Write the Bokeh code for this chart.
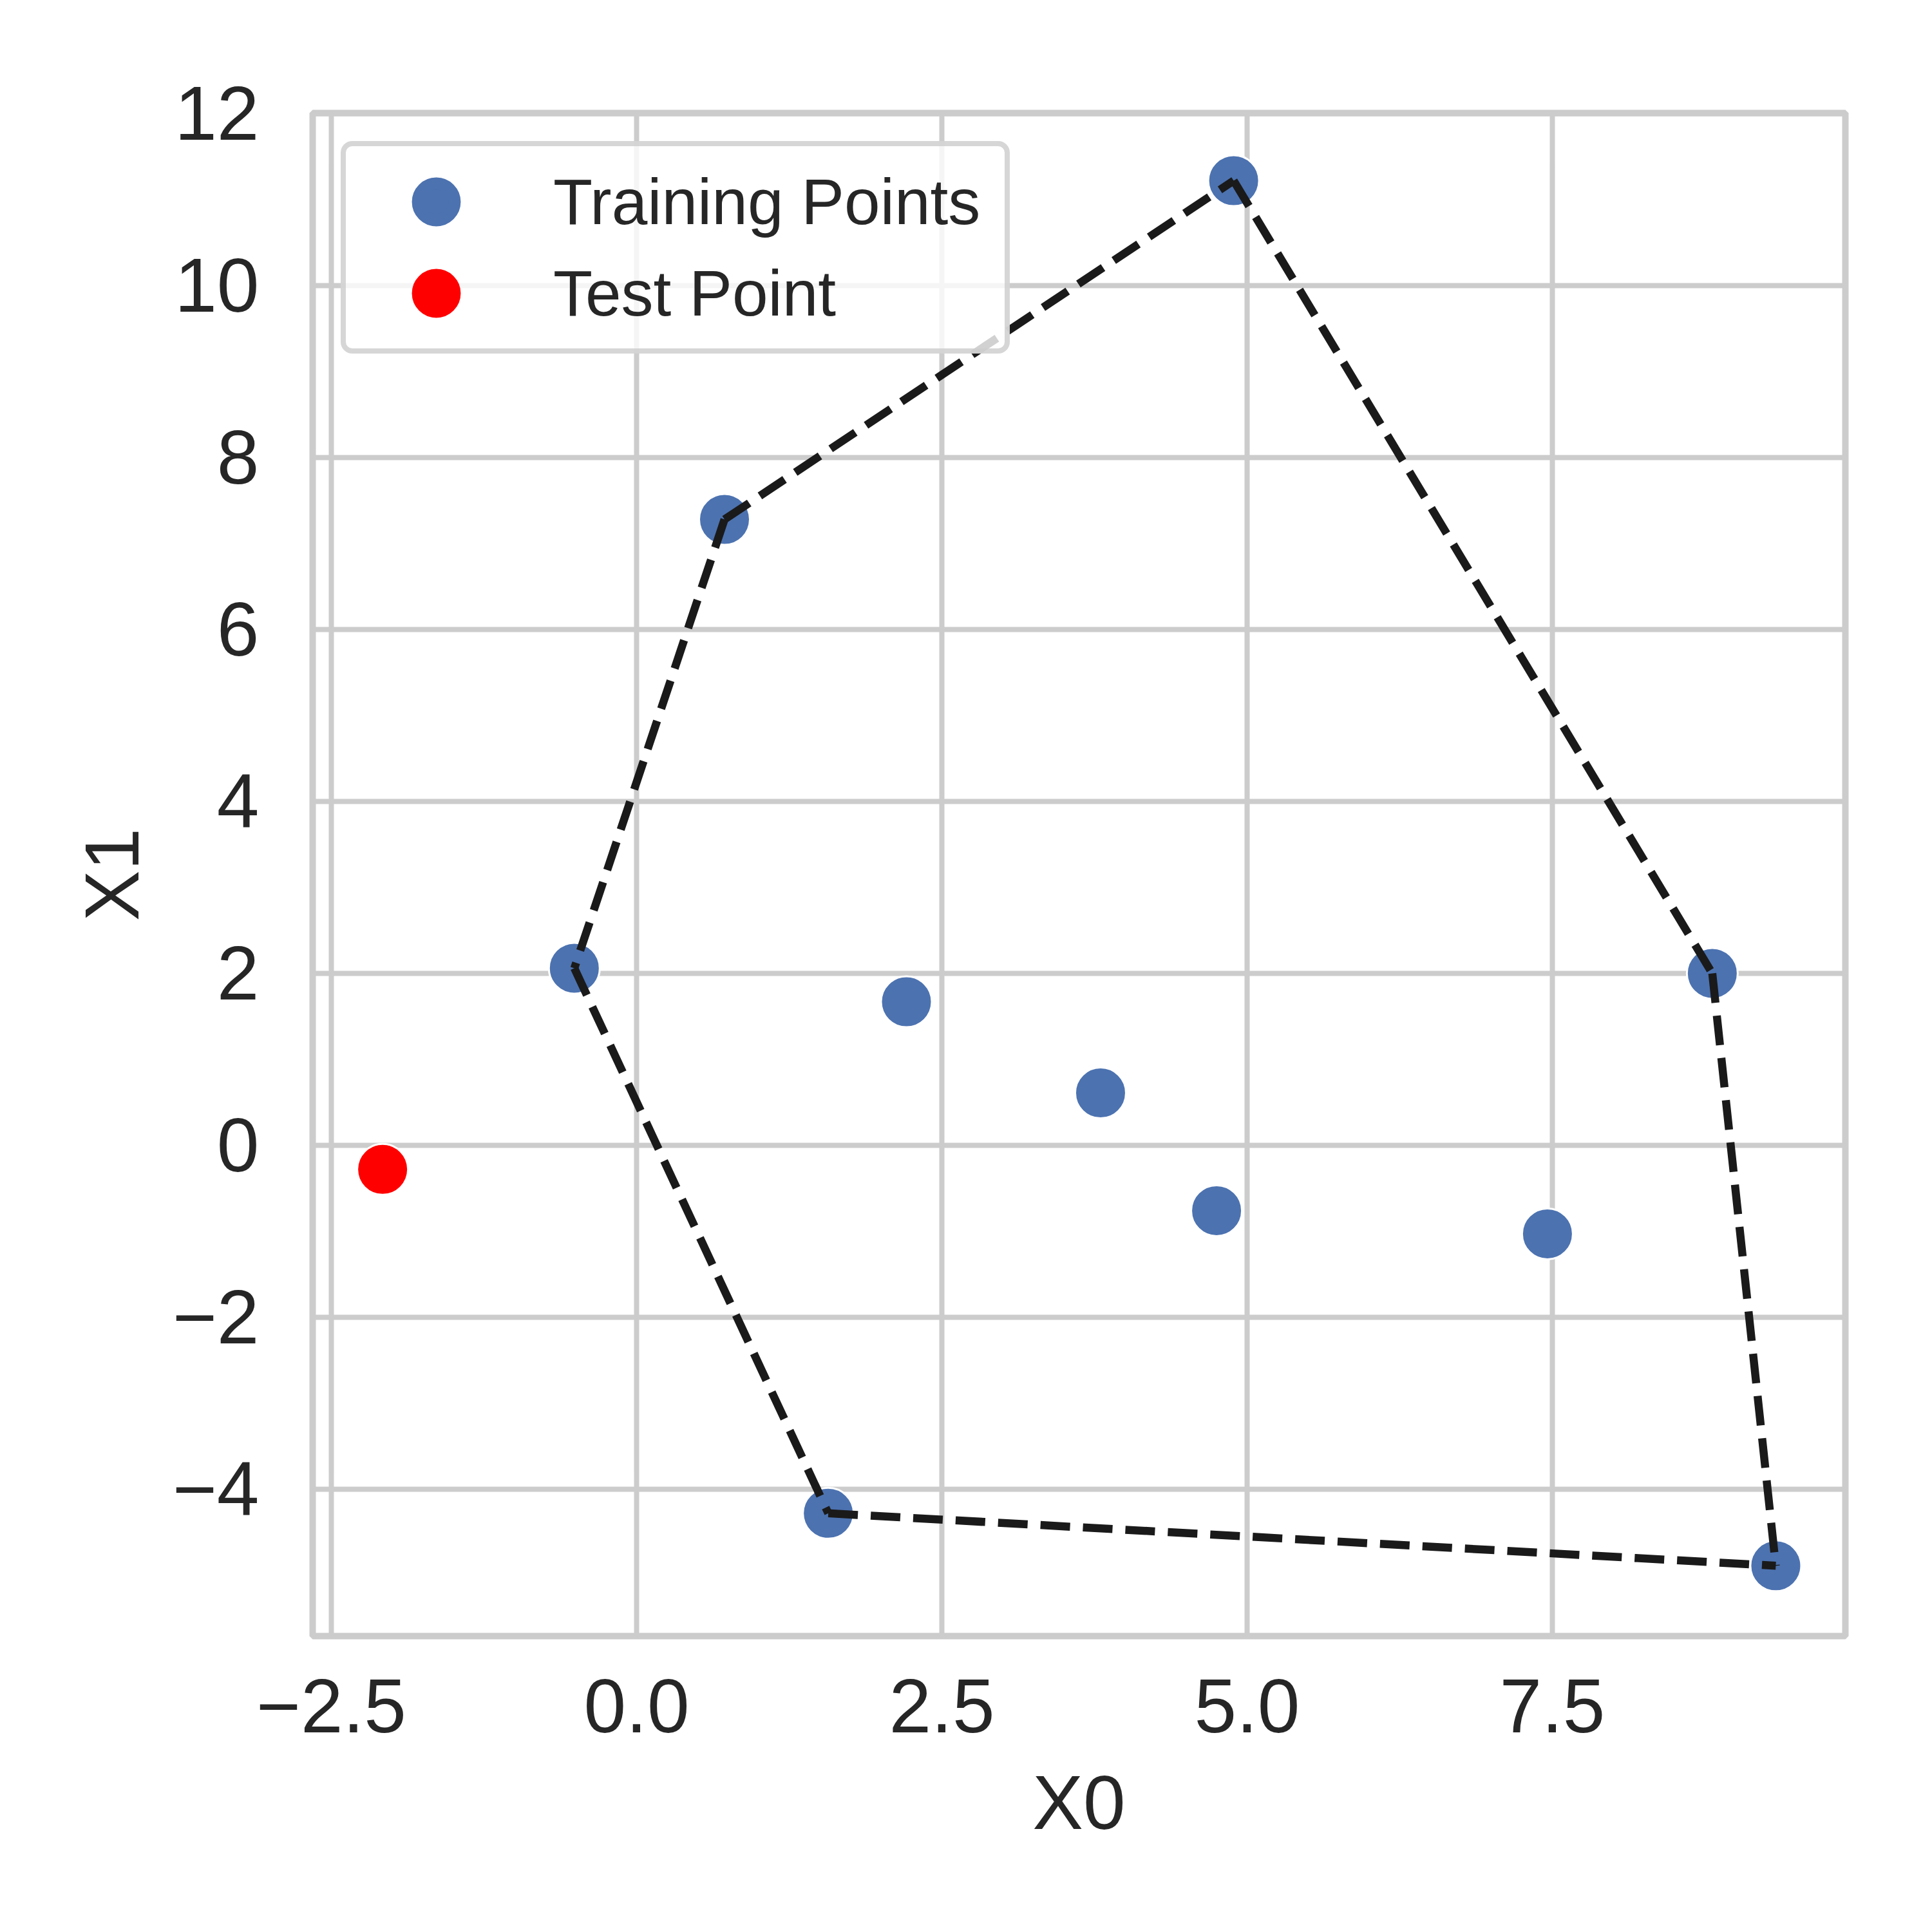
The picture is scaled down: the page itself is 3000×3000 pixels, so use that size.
from bokeh.plotting import figure
from bokeh.models import FixedTicker, Legend, LegendItem
from bokeh.embed import file_html
from bokeh.resources import INLINE

# ---- data ----
train_x = [-0.51, 0.72, 4.89, 8.81, 9.33, 1.57, 2.21, 3.80, 4.75, 7.46]
train_y = [2.06, 7.28, 11.22, 2.00, -4.89, -4.28, 1.67, 0.61, -0.76, -1.03]
test_x = [-2.08]
test_y = [-0.28]
# convex hull edges as index pairs into the training points
hull_edges = [(5, 4), (3, 4), (2, 3), (1, 2), (1, 0), (0, 5)]

x_ticks = [-2.5, 0.0, 2.5, 5.0, 7.5]
x_tick_labels = ["\u22122.5", "0.0", "2.5", "5.0", "7.5"]
y_ticks = [-4, -2, 0, 2, 4, 6, 8, 10, 12]
y_tick_labels = ["\u22124", "\u22122", "0", "2", "4", "6", "8", "10", "12"]
x_label = "X0"
y_label = "X1"
series_labels = ["Training Points", "Test Point"]
series_colors = ["#4C72B0", "#FF0000"]

FONT = "Liberation Sans"
TEXT = "#262626"
GRID = "#cccccc"

p = figure(
    width=2984, height=2984,
    x_range=(-2.653, 9.90), y_range=(-5.708, 12.007),
    output_backend="svg", toolbar_location=None,
    min_border_left=485, min_border_right=119,
    min_border_top=175, min_border_bottom=444,
)
p.background_fill_color = "white"
p.border_fill_color = "white"
p.outline_line_color = GRID
p.outline_line_width = 10

for g in (p.xgrid, p.ygrid):
    g.grid_line_color = GRID
    g.grid_line_width = 8

p.xaxis.ticker = FixedTicker(ticks=x_ticks)
p.yaxis.ticker = FixedTicker(ticks=y_ticks)
p.xaxis.major_label_overrides = {float(t): l for t, l in zip(x_ticks, x_tick_labels)}
p.yaxis.major_label_overrides = {float(t): l for t, l in zip(y_ticks, y_tick_labels)}
p.xaxis.axis_label = x_label
p.yaxis.axis_label = y_label

for ax in (p.xaxis[0], p.yaxis[0]):
    ax.axis_line_color = None
    ax.major_tick_line_color = None
    ax.minor_tick_line_color = None
    ax.major_tick_out = 0
    ax.major_tick_in = 0
    ax.major_label_text_font = FONT
    ax.major_label_text_font_size = "118px"
    ax.major_label_text_color = TEXT
    ax.axis_label_text_font = FONT
    ax.axis_label_text_font_size = "118px"
    ax.axis_label_text_color = TEXT
    ax.axis_label_text_font_style = "normal"

p.xaxis.major_label_standoff = 67
p.xaxis.axis_label_standoff = 40
p.yaxis.major_label_standoff = 83
p.yaxis.axis_label_standoff = 25

# legend swatches: small markers with a thick outline of the same colour,
# drawn first so the real (larger) markers cover them completely on the plot
leg_r = [
    p.scatter(xs, ys, size=10, fill_color=c, line_color=c, line_width=19)
    for xs, ys, c in ((train_x, train_y, series_colors[0]),
                      (test_x, test_y, series_colors[1]))
]

# data points
p.scatter(train_x, train_y, size=79, fill_color=series_colors[0],
          line_color="white", line_width=3)
p.scatter(test_x, test_y, size=79, fill_color=series_colors[1],
          line_color="white", line_width=3)

# convex hull, one dashed segment per edge
hx = [[train_x[a], train_x[b]] for a, b in hull_edges]
hy = [[train_y[a], train_y[b]] for a, b in hull_edges]
p.multi_line(hx, hy, line_color="#1a1a1a", line_width=12.5, line_dash="46 20")

lg = Legend(items=[LegendItem(label=lab, renderers=[r])
                   for lab, r in zip(series_labels, leg_r)])
lg.location = "top_left"
lg.margin = 44
lg.padding = 15
lg.spacing = 0
lg.glyph_width = 250
lg.glyph_height = 142
lg.label_standoff = 57
lg.label_width = 686
lg.label_text_font = FONT
lg.label_text_font_size = "100px"
lg.label_text_color = TEXT
lg.background_fill_color = "white"
lg.background_fill_alpha = 0.8
lg.border_line_color = GRID
lg.border_line_alpha = 0.8
lg.border_line_width = 8
lg.border_radius = 18
p.add_layout(lg)

open("out.html", "w").write(file_html(p, INLINE))
